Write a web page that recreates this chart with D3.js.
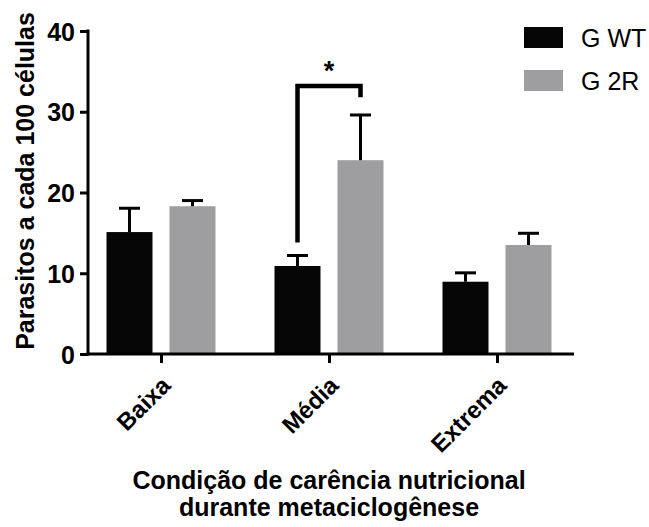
<!DOCTYPE html>
<html>
<head>
<meta charset="utf-8">
<script src="https://cdn.jsdelivr.net/npm/d3@7"></script>
<style>
  html, body { margin: 0; padding: 0; background: #fff; }
  svg { display: block; font-family: "Liberation Sans", Arial, Helvetica, sans-serif; }
</style>
</head>
<body>
<svg id="chart" width="649" height="527"></svg>
<script>
// ---- data ----
const categories = ["Baixa", "Média", "Extrema"];
const seriesNames = ["G WT", "G 2R"];
const seriesColors = ["#050505", "#9e9ea0"];
const meanWT = [15.1, 10.9, 8.95];
const errWT = [2.95, 1.3, 1.1];
const mean2R = [18.3, 24.0, 13.5];
const err2R = [0.7, 5.6, 1.45];
const yTicks = [0, 10, 20, 30, 40];
const yTitle = "Parasitos a cada 100 células";
const xTitleLines = ["Condição de carência nutricional", "durante metaciclogênese"];
// significance bracket: between series of a category, left/right foot values and top value
const sigCategory = "Média";
const sigLeftFoot = 13.8;
const sigRightFoot = 31.8;
const sigTop = 33.2;
const sigLabel = "*";

// ---- layout ----
const svg = d3.select("#chart");
const axisLeft = 88, axisRight = 574, yTop = 31, yBottom = 354;
const font = '"Liberation Sans", Arial, Helvetica, sans-serif';

const y = d3.scaleLinear().domain([0, 40]).range([yBottom, yTop]);
const x = d3.scalePoint().domain(categories).range([161, 497]);
const xs = d3.scaleBand().domain(seriesNames).range([-54.5, 54.5]).paddingInner(0.27);

const rows = [];
categories.forEach((c, i) => {
  rows.push({ cat: c, s: seriesNames[0], v: meanWT[i], e: errWT[i], color: seriesColors[0] });
  rows.push({ cat: c, s: seriesNames[1], v: mean2R[i], e: err2R[i], color: seriesColors[1] });
});

const bx = d => x(d.cat) + xs(d.s);
const bc = d => bx(d) + xs.bandwidth() / 2;

// bars
svg.append("g").selectAll("rect").data(rows).join("rect")
  .attr("x", bx).attr("width", xs.bandwidth())
  .attr("y", d => y(d.v)).attr("height", d => y(0) - y(d.v))
  .attr("fill", d => d.color);

// error bars (upper only)
const eg = svg.append("g").attr("stroke", "#000").attr("stroke-width", 3);
eg.selectAll("line.v").data(rows).join("line").attr("class", "v")
  .attr("x1", bc).attr("x2", bc)
  .attr("y1", d => y(d.v)).attr("y2", d => y(d.v + d.e));
eg.selectAll("line.c").data(rows).join("line").attr("class", "c")
  .attr("x1", d => bc(d) - 10.5).attr("x2", d => bc(d) + 10.5)
  .attr("y1", d => y(d.v + d.e)).attr("y2", d => y(d.v + d.e));

// y axis
const yAxis = svg.append("g").attr("transform", `translate(${axisLeft},0)`)
  .call(d3.axisLeft(y).tickValues(yTicks).tickSize(8).tickPadding(5).tickSizeOuter(0));
yAxis.select(".domain").attr("stroke-width", 3).attr("d", `M0,${yTop - 1.5}V${yBottom + 1.5}`);
yAxis.selectAll(".tick line").attr("stroke-width", 3);
yAxis.selectAll(".tick text").attr("font-family", font).attr("font-size", 25)
  .attr("font-weight", "bold").attr("fill", "#000").attr("dy", "0.36em");

// x axis
const xAxis = svg.append("g").attr("transform", `translate(0,${yBottom})`)
  .call(d3.axisBottom(x).tickSize(9).tickSizeOuter(0).tickFormat(""));
xAxis.select(".domain").attr("stroke-width", 3).attr("d", `M${axisLeft - 1.5},0H${axisRight}`);
xAxis.selectAll(".tick line").attr("stroke-width", 3);

// x category labels
svg.append("g").selectAll("text").data(categories).join("text")
  .attr("transform", d => `translate(${x(d) + 11},${yBottom + 33}) rotate(-45)`)
  .attr("text-anchor", "end")
  .attr("font-family", font).attr("font-size", 24).attr("font-weight", "bold")
  .attr("fill", "#000").text(d => d);

// y title
svg.append("text")
  .attr("transform", `translate(34,181) rotate(-90)`)
  .attr("text-anchor", "middle")
  .attr("font-family", font).attr("font-size", 25).attr("font-weight", "bold")
  .attr("fill", "#000").text(yTitle);

// x title
svg.append("g").selectAll("text").data(xTitleLines).join("text")
  .attr("x", 329).attr("y", (d, i) => 489 + i * 27)
  .attr("text-anchor", "middle")
  .attr("font-family", font).attr("font-size", 25).attr("font-weight", "bold")
  .attr("fill", "#000").text(d => d);

// significance bracket
const wtRow = rows.find(r => r.cat === sigCategory && r.s === seriesNames[0]);
const r2Row = rows.find(r => r.cat === sigCategory && r.s === seriesNames[1]);
const lx = bc(wtRow), rx = bc(r2Row);
svg.append("path")
  .attr("d", `M${lx},${y(sigLeftFoot)}V${y(sigTop)}H${rx}V${y(sigRightFoot)}`)
  .attr("fill", "none").attr("stroke", "#000").attr("stroke-width", 4.5)
  .attr("stroke-linejoin", "miter");
svg.append("text")
  .attr("x", (lx + rx) / 2).attr("y", y(sigTop) - 6)
  .attr("text-anchor", "middle")
  .attr("font-family", font).attr("font-size", 27).attr("font-weight", "bold")
  .attr("fill", "#000").text(sigLabel);

// legend
const lg = svg.append("g").attr("transform", "translate(524,27)");
const li = lg.selectAll("g").data(seriesNames).join("g")
  .attr("transform", (d, i) => `translate(0,${i * 43})`);
li.append("rect").attr("width", 39).attr("height", 21).attr("fill", (d, i) => seriesColors[i]);
li.append("text").attr("x", 57).attr("y", 20)
  .attr("font-family", font).attr("font-size", 25).attr("fill", "#000").text(d => d);
</script>
</body>
</html>
